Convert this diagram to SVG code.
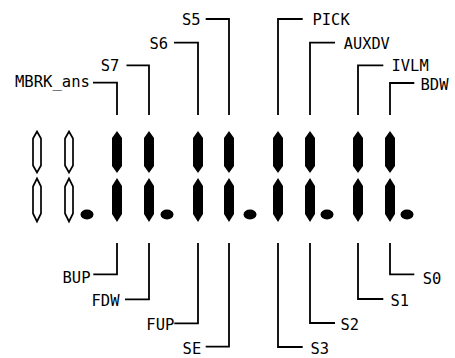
<svg xmlns="http://www.w3.org/2000/svg" xmlns:xlink="http://www.w3.org/1999/xlink" width="455" height="358" viewBox="0 0 455 358">
<style>
.lbl{font-family:"DejaVu Sans Mono","Liberation Mono",monospace;font-size:16.5px;fill:#000}
.end{text-anchor:end}
.conn{fill:none;stroke:#000;stroke-width:1.8}
.on{fill:#000}
.off{fill:#fff;stroke:#000;stroke-width:1.7}
.dp{fill:#000}
</style>
<defs>
<path id="segU" d="M0,131 L5,138 L5,166 L0,173 L-5,166 L-5,138 Z"/>
<path id="segL" d="M0,178 L5,186 L5,214 L0,222 L-5,214 L-5,186 Z"/>
<path id="oU" d="M0,131.5 L4,138.5 L4,165.5 L0,172.5 L-4,165.5 L-4,138.5 Z"/>
<path id="oL" d="M0,178.5 L4,186.5 L4,213.5 L0,221.5 L-4,213.5 L-4,186.5 Z"/>
</defs>
<rect width="455" height="358" fill="#fff"/>
<g id="digit1">
<use xlink:href="#oU" x="37" class="off"/><use xlink:href="#oL" x="37" class="off"/>
<use xlink:href="#oU" x="69" class="off"/><use xlink:href="#oL" x="69" class="off"/>
<ellipse class="dp" cx="87" cy="214.5" rx="6.5" ry="5"/>
</g>
<g id="digit2">
<use xlink:href="#segU" x="117" class="on"/><use xlink:href="#segL" x="117" class="on"/>
<use xlink:href="#segU" x="149" class="on"/><use xlink:href="#segL" x="149" class="on"/>
<ellipse class="dp" cx="167" cy="214.5" rx="6.5" ry="5"/>
</g>
<g id="digit3">
<use xlink:href="#segU" x="198" class="on"/><use xlink:href="#segL" x="198" class="on"/>
<use xlink:href="#segU" x="229" class="on"/><use xlink:href="#segL" x="229" class="on"/>
<ellipse class="dp" cx="250" cy="214.5" rx="6.5" ry="5"/>
</g>
<g id="digit4">
<use xlink:href="#segU" x="278" class="on"/><use xlink:href="#segL" x="278" class="on"/>
<use xlink:href="#segU" x="310" class="on"/><use xlink:href="#segL" x="310" class="on"/>
<ellipse class="dp" cx="327" cy="214.5" rx="6.5" ry="5"/>
</g>
<g id="digit5">
<use xlink:href="#segU" x="358" class="on"/><use xlink:href="#segL" x="358" class="on"/>
<use xlink:href="#segU" x="390" class="on"/><use xlink:href="#segL" x="390" class="on"/>
<ellipse class="dp" cx="407" cy="214.5" rx="6.5" ry="5"/>
</g>
<g id="connectors">
<polyline class="conn" points="93,82.7 117,82.7 117,115"/>
<polyline class="conn" points="126.5,65.3 149,65.3 149,115"/>
<polyline class="conn" points="174,42.7 198,42.7 198,115"/>
<polyline class="conn" points="205.7,19 229,19 229,115"/>
<polyline class="conn" points="302.7,19 278,19 278,115"/>
<polyline class="conn" points="335,42.7 310,42.7 310,115"/>
<polyline class="conn" points="383.3,65.3 358,65.3 358,115"/>
<polyline class="conn" points="414.3,83 390,83 390,115"/>
<polyline class="conn" points="93.3,274.3 117,274.3 117,243"/>
<polyline class="conn" points="125,299.3 149,299.3 149,243"/>
<polyline class="conn" points="174.3,323.3 198,323.3 198,243"/>
<polyline class="conn" points="205.7,346.7 229,346.7 229,243"/>
<polyline class="conn" points="302.7,347 278,347 278,243"/>
<polyline class="conn" points="335,323 310,323 310,243"/>
<polyline class="conn" points="383.3,299 358,299 358,243"/>
<polyline class="conn" points="414.3,274.3 390,274.3 390,243"/>
</g>
<g id="lbl-MBRK_ans"><text class="lbl end" x="90" y="87" textLength="75" lengthAdjust="spacingAndGlyphs">MBRK_ans</text></g>
<g id="lbl-S7"><text class="lbl end" x="119.3" y="70.5" textLength="18.6" lengthAdjust="spacingAndGlyphs">S7</text></g>
<g id="lbl-S6"><text class="lbl end" x="168" y="48.5" textLength="18.6" lengthAdjust="spacingAndGlyphs">S6</text></g>
<g id="lbl-S5"><text class="lbl end" x="200.5" y="25" textLength="18.6" lengthAdjust="spacingAndGlyphs">S5</text></g>
<g id="lbl-PICK"><text class="lbl" x="312.5" y="25" textLength="37.2" lengthAdjust="spacingAndGlyphs">PICK</text></g>
<g id="lbl-AUXDV"><text class="lbl" x="343.8" y="48.5" textLength="46" lengthAdjust="spacingAndGlyphs">AUXDV</text></g>
<g id="lbl-IVLM"><text class="lbl" x="391.5" y="70.5" textLength="37.2" lengthAdjust="spacingAndGlyphs">IVLM</text></g>
<g id="lbl-BDW"><text class="lbl" x="420.5" y="90" textLength="28" lengthAdjust="spacingAndGlyphs">BDW</text></g>
<g id="lbl-BUP"><text class="lbl end" x="90.5" y="282.5" textLength="28" lengthAdjust="spacingAndGlyphs">BUP</text></g>
<g id="lbl-FDW"><text class="lbl end" x="119.5" y="305.5" textLength="28" lengthAdjust="spacingAndGlyphs">FDW</text></g>
<g id="lbl-FUP"><text class="lbl end" x="174.3" y="329.5" textLength="28" lengthAdjust="spacingAndGlyphs">FUP</text></g>
<g id="lbl-SE"><text class="lbl end" x="201.2" y="353.5" textLength="18.6" lengthAdjust="spacingAndGlyphs">SE</text></g>
<g id="lbl-S3"><text class="lbl" x="310.5" y="353.5" textLength="18.6" lengthAdjust="spacingAndGlyphs">S3</text></g>
<g id="lbl-S2"><text class="lbl" x="340.5" y="329.5" textLength="18.6" lengthAdjust="spacingAndGlyphs">S2</text></g>
<g id="lbl-S1"><text class="lbl" x="390.5" y="305.5" textLength="18.6" lengthAdjust="spacingAndGlyphs">S1</text></g>
<g id="lbl-S0"><text class="lbl" x="422.8" y="283.5" textLength="18.6" lengthAdjust="spacingAndGlyphs">S0</text></g>
</svg>
